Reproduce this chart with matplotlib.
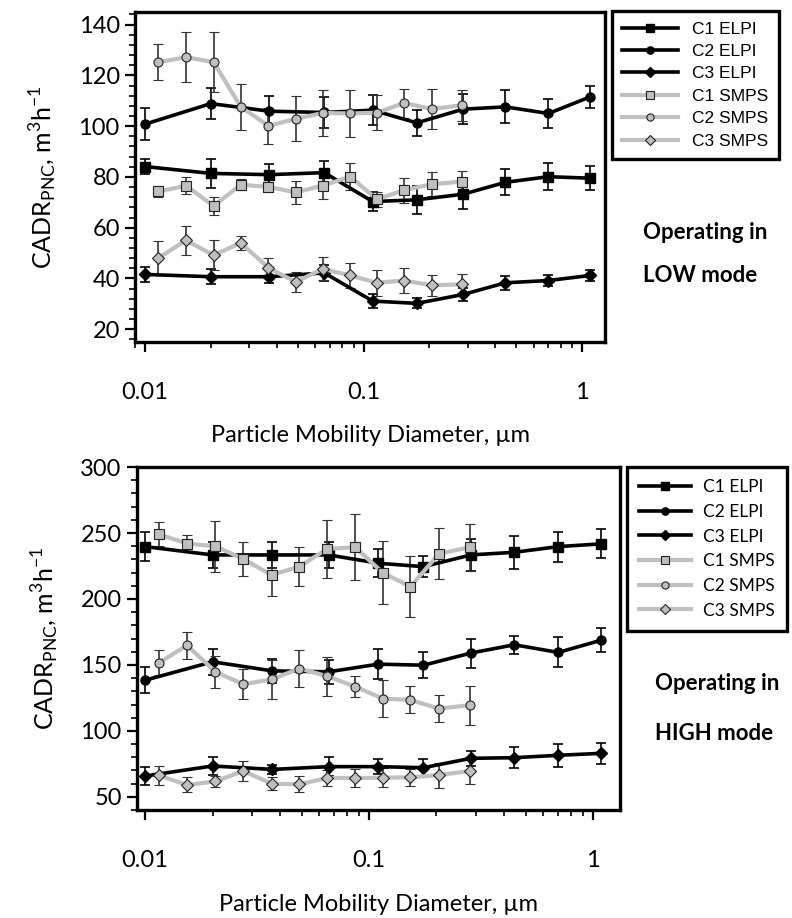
import numpy as np
import matplotlib
matplotlib.use("Agg")
import matplotlib.pyplot as plt
from matplotlib.ticker import MultipleLocator, LogLocator, NullFormatter, FixedLocator, FixedFormatter

# particle sizes (um)
d_elpi = [0.010, 0.020, 0.037, 0.066, 0.11, 0.175, 0.285, 0.445, 0.70, 1.09]
d_smps = [0.0115, 0.0154, 0.0206, 0.0274, 0.0367, 0.0489, 0.065, 0.0867, 0.115, 0.153, 0.205, 0.281]

# LOW mode
low_c1_elpi = [84.1, 81.4, 80.9, 81.7, 70.3, 71.0, 73.2, 77.9, 80.1, 79.5]
low_c1_elpi_err = [2.9, 5.6, 4.2, 4.7, 3.9, 5.4, 5.8, 5.2, 5.2, 4.8]
low_c2_elpi = [100.8, 108.9, 105.9, 105.4, 106.3, 101.3, 106.7, 107.6, 105.0, 111.6]
low_c2_elpi_err = [6.4, 6.1, 6.0, 6.0, 6.0, 5.0, 6.0, 6.5, 5.8, 4.3]
low_c3_elpi = [41.6, 40.7, 40.7, 42.2, 31.1, 30.2, 33.7, 38.3, 39.2, 41.2]
low_c3_elpi_err = [2.9, 2.9, 2.5, 3.0, 2.7, 2.0, 2.5, 2.7, 2.3, 2.3]
low_c1_smps = [74.3, 76.5, 68.6, 76.9, 76.1, 73.9, 76.6, 80.1, 71.2, 74.8, 77.1, 78.2]
low_c1_smps_err = [2.3, 3.4, 3.4, 2.1, 2.1, 4.5, 5.3, 5.4, 3.0, 4.9, 4.8, 4.2]
low_c2_smps = [125.2, 127.2, 125.2, 107.6, 100.1, 102.9, 105.2, 105.0, 105.3, 109.1, 106.8, 108.2]
low_c2_smps_err = [7.0, 9.9, 11.7, 9.0, 7.0, 8.8, 9.0, 9.4, 7.0, 5.7, 7.9, 6.2]
low_c3_smps = [48.1, 55.0, 49.2, 54.0, 44.2, 38.6, 43.8, 41.2, 38.3, 39.2, 37.3, 37.7]
low_c3_smps_err = [6.8, 5.6, 5.8, 2.8, 3.9, 3.9, 4.5, 5.0, 5.2, 4.9, 4.2, 3.9]

# HIGH mode
high_c1_elpi = [239.7, 233.4, 233.4, 233.4, 227.1, 224.5, 233.4, 235.4, 239.7, 241.8]
high_c1_elpi_err = [10.8, 10.0, 10.0, 10.0, 10.6, 8.0, 12.0, 12.4, 11.3, 11.0]
high_c2_elpi = [138.4, 152.4, 145.5, 144.8, 150.6, 149.8, 159.0, 165.3, 159.5, 168.8]
high_c2_elpi_err = [9.9, 10.0, 9.0, 9.0, 11.5, 10.0, 11.0, 6.8, 11.4, 9.0]
high_c3_elpi = [65.8, 73.4, 70.8, 72.9, 72.9, 72.1, 79.2, 79.7, 81.5, 83.0]
high_c3_elpi_err = [6.8, 7.0, 3.5, 7.2, 5.7, 6.3, 5.8, 7.8, 8.6, 8.0]
high_c1_smps = [249.1, 242.0, 240.0, 230.4, 218.2, 224.6, 238.0, 239.2, 220.0, 209.3, 234.2, 239.2]
high_c1_smps_err = [9.0, 6.3, 19.5, 13.0, 15.7, 14.6, 22.0, 25.0, 24.0, 23.0, 19.4, 17.7]
high_c2_smps = [151.6, 164.8, 144.8, 135.4, 139.0, 147.3, 141.5, 133.6, 124.5, 123.5, 116.9, 119.5]
high_c2_smps_err = [9.6, 10.5, 12.0, 11.4, 15.0, 14.0, 14.7, 8.2, 14.3, 10.3, 10.5, 14.8]
high_c3_smps = [66.3, 59.0, 61.7, 69.6, 60.0, 59.5, 64.3, 64.3, 64.5, 64.8, 66.5, 69.6]
high_c3_smps_err = [7.2, 5.7, 4.0, 7.6, 5.0, 6.0, 6.0, 6.7, 7.0, 6.3, 9.5, 10.0]

labels = ["C1 ELPI", "C2 ELPI", "C3 ELPI", "C1 SMPS", "C2 SMPS", "C3 SMPS"]
markers = ["s", "o", "D", "s", "o", "D"]

FONT = "Lato"
GRAY = "#c0c0c0"


def panel(ax, elpi, smps, ylim, ymajor, yminor, xlim):
    handles = []
    for (y, e), m, lab in zip(elpi, markers[:3], labels[:3]):
        c = ax.errorbar(d_elpi, y, yerr=e, color="black", lw=2.6, marker=m,
                        ms=6.5 if m != "D" else 6, mfc="black", mec="black",
                        ecolor="black", elinewidth=1.2, capsize=3.5, capthick=1.2,
                        label=lab)
        handles.append(c[0])
    for (y, e), m, lab in zip(smps, markers[3:], labels[3:]):
        c = ax.errorbar(d_smps, y, yerr=e, color=GRAY, lw=3, marker=m,
                        ms=6.5 if m != "D" else 6, mfc="#bfbfbf", mec="#222222",
                        mew=0.8, ecolor="#333333", elinewidth=1.2, capsize=3.5,
                        capthick=1.2, label=lab)
        handles.append(c[0])
    ax.set_xscale("log")
    ax.set_xlim(*xlim)
    ax.set_ylim(*ylim)
    ax.yaxis.set_major_locator(MultipleLocator(ymajor))
    ax.yaxis.set_minor_locator(MultipleLocator(yminor))
    ax.xaxis.set_major_locator(FixedLocator([0.01, 0.1, 1]))
    ax.xaxis.set_major_formatter(FixedFormatter(["0.01", "0.1", "1"]))
    ax.xaxis.set_minor_locator(LogLocator(base=10, subs=np.arange(2, 10)))
    ax.xaxis.set_minor_formatter(NullFormatter())
    for s in ax.spines.values():
        s.set_linewidth(2.4)
    ax.tick_params(which="major", direction="out", length=7, width=1.6,
                   labelsize=17, pad=22)
    ax.tick_params(which="minor", direction="out", length=4, width=1.2)
    ax.tick_params(axis="y", which="major", pad=4)
    for t in ax.get_xticklabels() + ax.get_yticklabels():
        t.set_fontfamily(FONT)
    ax.set_xlabel("Particle Mobility Diameter, \u00b5m", fontsize=17,
                  fontfamily=FONT, labelpad=16)
    ax.set_ylabel(r"CADR$_\mathregular{PNC}$, m$^\mathregular{3}$h$^\mathregular{-1}$",
                  fontsize=18, fontfamily=FONT, labelpad=14)
    return handles


plt.rcParams["font.family"] = FONT
fig = plt.figure(figsize=(7.92, 9.18), dpi=100)

ax1 = fig.add_axes([0.1705, 0.6275, 0.5934, 0.3595])
h1 = panel(ax1,
           [(low_c1_elpi, low_c1_elpi_err), (low_c2_elpi, low_c2_elpi_err), (low_c3_elpi, low_c3_elpi_err)],
           [(low_c1_smps, low_c1_smps_err), (low_c2_smps, low_c2_smps_err), (low_c3_smps, low_c3_smps_err)],
           (15, 145), 20, 4, (0.009, 1.27))

ax2 = fig.add_axes([0.173, 0.1176, 0.6098, 0.3736])
h2 = panel(ax2,
           [(high_c1_elpi, high_c1_elpi_err), (high_c2_elpi, high_c2_elpi_err), (high_c3_elpi, high_c3_elpi_err)],
           [(high_c1_smps, high_c1_smps_err), (high_c2_smps, high_c2_smps_err), (high_c3_smps, high_c3_smps_err)],
           (40, 300), 50, 10, (0.0092, 1.32))

leg1 = ax1.legend(h1, labels, loc="upper left", bbox_to_anchor=(0.7727, 0.988),
                  bbox_transform=fig.transFigure, borderaxespad=0,
                  prop={"family": "Liberation Sans", "size": 12.5},
                  handlelength=3.2, labelspacing=0.42, fancybox=False,
                  edgecolor="black", framealpha=1, borderpad=0.6,
                  handletextpad=0.8, markerscale=0.8)
leg1.get_frame().set_linewidth(2.4)

leg2 = ax2.legend(h2, labels, loc="upper left", bbox_to_anchor=(0.7917, 0.4913),
                  bbox_transform=fig.transFigure, borderaxespad=0,
                  prop={"family": FONT, "size": 12.5},
                  handlelength=3.0, labelspacing=0.5, fancybox=False,
                  edgecolor="black", framealpha=1, borderpad=0.7,
                  handletextpad=0.7, markerscale=0.8)
leg2.get_frame().set_linewidth(2.4)

fig.text(643 / 792, 1 - 232 / 918, "Operating in", fontsize=16,
         fontweight="bold", fontfamily=FONT, va="center", ha="left")
fig.text(643 / 792, 1 - 275 / 918, "LOW mode", fontsize=16,
         fontweight="bold", fontfamily=FONT, va="center", ha="left")
fig.text(655 / 792, 1 - 684 / 918, "Operating in", fontsize=16,
         fontweight="bold", fontfamily=FONT, va="center", ha="left")
fig.text(655 / 792, 1 - 733 / 918, "HIGH mode", fontsize=16,
         fontweight="bold", fontfamily=FONT, va="center", ha="left")

fig.savefig("out.png", dpi=100)
